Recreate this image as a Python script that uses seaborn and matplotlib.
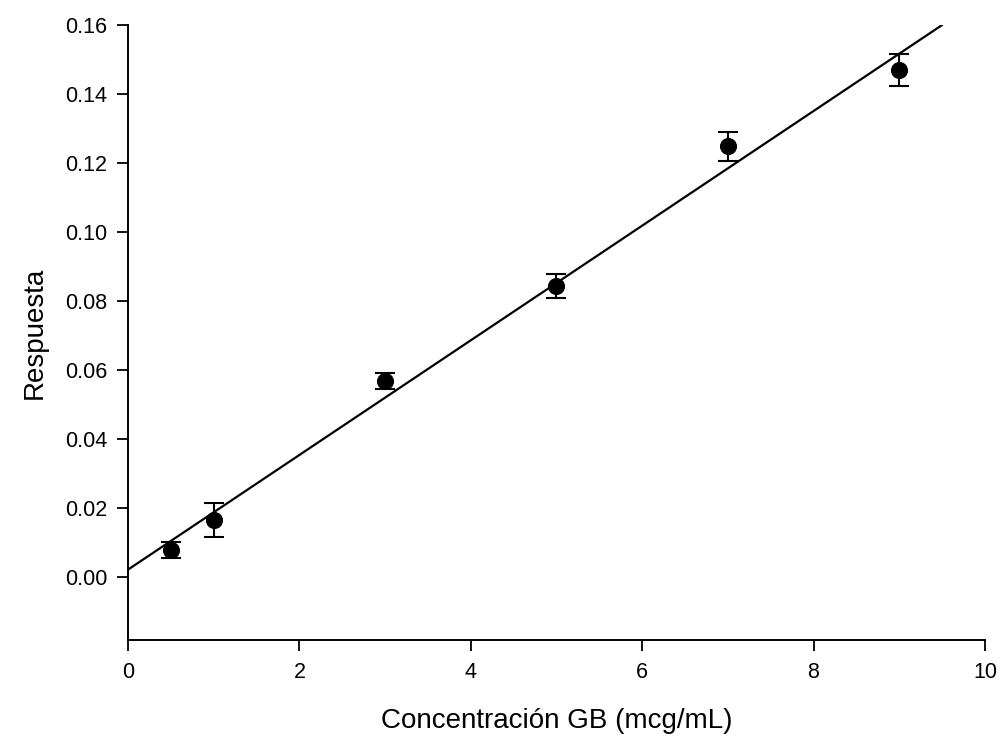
import matplotlib
matplotlib.use("Agg")
import matplotlib.pyplot as plt
import seaborn as sns
import numpy as np
import pandas as pd

conc = [0.5, 1.0, 3.0, 5.0, 7.0, 9.0]
resp = [0.0078, 0.0165, 0.0568, 0.0843, 0.1248, 0.1469]
err = [0.0022, 0.0050, 0.0023, 0.0035, 0.0042, 0.0047]
fit_intercept = 0.0021
fit_slope = 0.01662
fit_x = [0.0, 9.5]
xticks = [0, 2, 4, 6, 8, 10]
yticks = [0.00, 0.02, 0.04, 0.06, 0.08, 0.10, 0.12, 0.14, 0.16]

sns.set_theme(style="ticks")
plt.rcParams['font.family'] = ['Liberation Sans', 'DejaVu Sans']
plt.rcParams['text.color'] = 'black'
plt.rcParams['axes.labelcolor'] = 'black'
plt.rcParams['xtick.color'] = 'black'
plt.rcParams['ytick.color'] = 'black'

fig = plt.figure(figsize=(10.04, 7.42), dpi=100)
ax = fig.add_axes([0.1275, 0.1375, 0.8535, 0.8288])

df = pd.DataFrame({"x": conc, "y": resp})
fit_df = pd.DataFrame({"x": fit_x, "y": [fit_intercept + fit_slope * v for v in fit_x]})

sns.lineplot(data=fit_df, x="x", y="y", ax=ax, color="black", linewidth=1.6)
ax.errorbar(conc, resp, yerr=err, fmt="none", ecolor="black", elinewidth=1.5,
            capsize=7, capthick=1.5)
sns.scatterplot(data=df, x="x", y="y", ax=ax, color="black", s=130, edgecolor="black", zorder=3)

ax.set_xlim(0, 10)
ax.set_ylim(-0.0183, 0.16)
ax.set_xticks(xticks)
ax.set_xticklabels([str(t) for t in xticks])
ax.set_yticks(yticks)
ax.set_yticklabels([f"{t:.2f}" for t in yticks])
ax.tick_params(axis="both", labelsize=15.5, length=8, width=1.3, direction="out")
ax.tick_params(axis="x", pad=8)
ax.tick_params(axis="y", pad=7)
for s in ["top", "right"]:
    ax.spines[s].set_visible(False)
for s in ["left", "bottom"]:
    ax.spines[s].set_color("black")
    ax.spines[s].set_linewidth(1.4)

ax.set_xlabel("Concentración GB (mcg/mL)", fontsize=20, labelpad=18)
ax.set_ylabel("Respuesta", fontsize=20, labelpad=12)

fig.savefig("out.png", dpi=100)
